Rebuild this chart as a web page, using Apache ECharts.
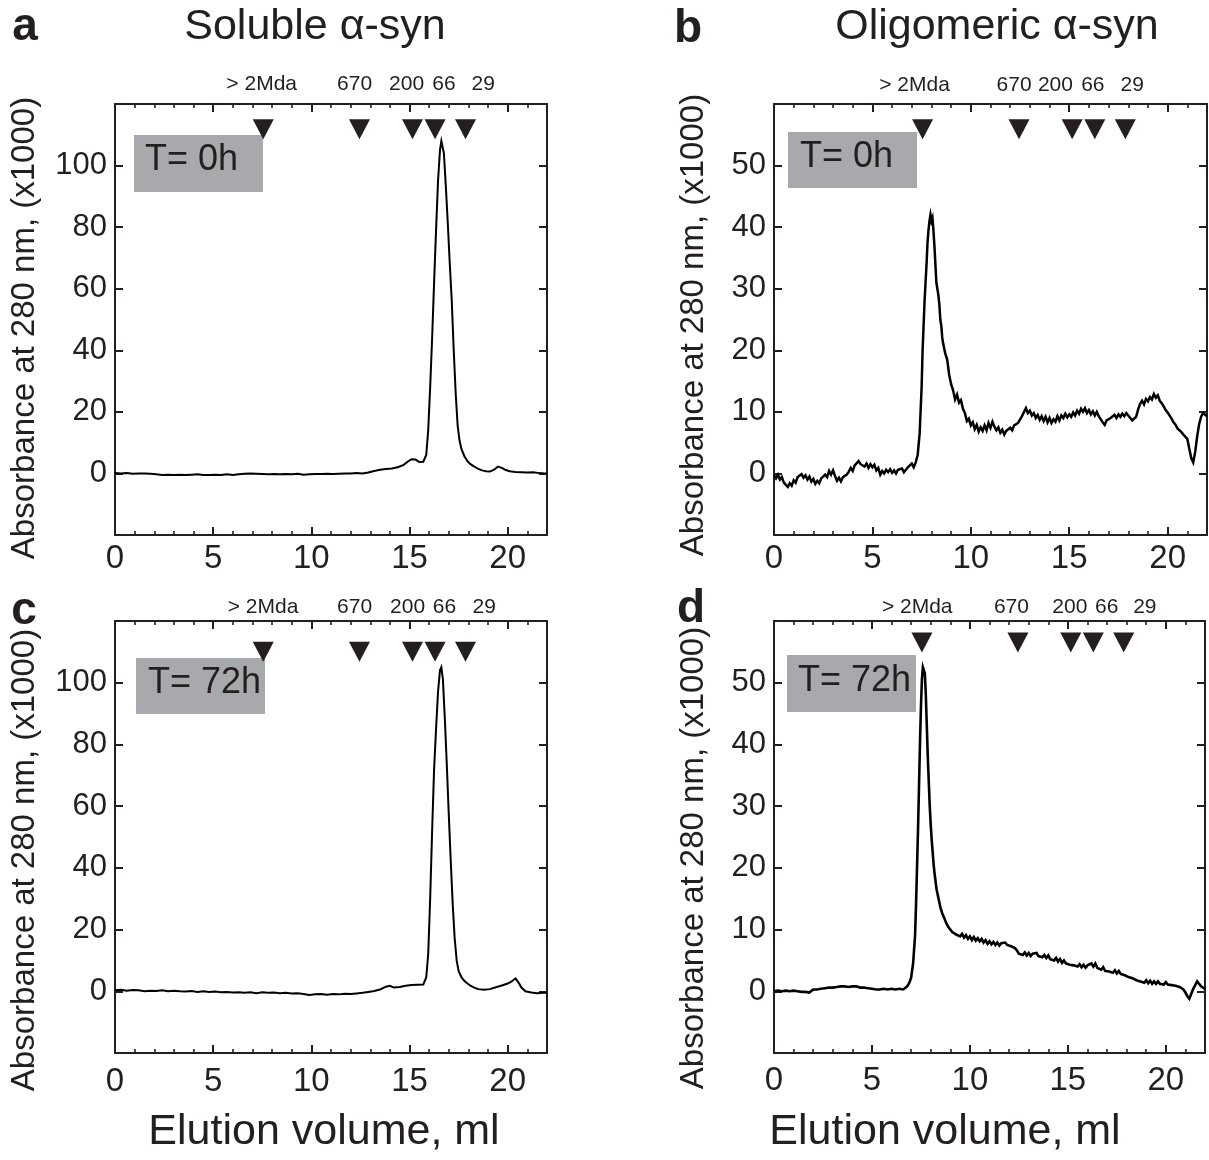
<!DOCTYPE html>
<html><head><meta charset="utf-8">
<script src="https://cdn.jsdelivr.net/npm/echarts@6/dist/echarts.min.js"></script>
<style>html,body{margin:0;padding:0;background:#fff}#c{width:1209px;height:1160px}</style>
</head><body><div id="c"></div>
<script>
// ---------- DATA ----------
// Panel a: soluble α-syn, T = 0h
const volA = [0.0,0.3,0.6,0.9,1.2,1.5,1.8,2.1,2.4,2.7,3.0,3.3,3.6,3.9,4.2,4.5,4.8,5.1,5.4,5.7,6.0,6.3,6.6,6.9,7.2,7.5,7.8,8.1,8.4,8.7,9.0,9.3,9.6,9.9,10.2,10.5,10.8,11.1,11.4,11.7,12.0,12.3,12.6,12.9,13.2,13.5,13.8,14.1,14.4,14.7,14.9,15.1,15.3,15.5,15.7,15.85,15.95,16.05,16.15,16.25,16.35,16.45,16.55,16.62,16.68,16.75,16.85,16.95,17.05,17.15,17.25,17.35,17.45,17.55,17.65,17.8,17.95,18.1,18.3,18.5,18.7,18.9,19.1,19.3,19.5,19.7,19.9,20.1,20.4,20.7,21.0,21.3,21.6,21.9,22.0];
const absA = [0.1,0.0,0.1,-0.1,0.0,0.0,-0.1,-0.3,-0.5,-0.4,-0.5,-0.4,-0.5,-0.4,-0.3,-0.5,-0.5,-0.4,-0.5,-0.3,-0.5,-0.3,-0.1,0.0,-0.1,-0.2,-0.3,-0.2,-0.3,-0.2,-0.3,-0.1,-0.4,-0.3,-0.2,-0.2,-0.1,-0.2,-0.1,0.0,0.0,0.1,0.0,0.3,0.8,1.2,1.4,1.6,2.0,2.8,3.8,4.6,4.5,3.7,3.8,6,14,28,44,62,79,95,105,108,108,104,93,81,68,56,40,26,15.5,10.5,7.8,5.5,4.0,3.0,2.2,1.5,1.0,0.7,0.6,1.2,2.2,1.8,1.1,0.7,0.5,0.4,0.3,0.4,0.1,0.0,0.0];

// Panel b: oligomeric α-syn, T = 0h
const volB = [0.0,0.1,0.2,0.3,0.4,0.5,0.6,0.7,0.8,0.9,1.0,1.1,1.2,1.3,1.4,1.5,1.6,1.7,1.8,1.9,2.0,2.1,2.2,2.3,2.4,2.5,2.6,2.7,2.8,2.9,3.0,3.1,3.2,3.3,3.4,3.5,3.6,3.7,3.8,3.9,4.0,4.1,4.2,4.3,4.4,4.5,4.6,4.7,4.8,4.9,5.0,5.1,5.2,5.3,5.4,5.5,5.6,5.7,5.8,5.9,6.0,6.1,6.2,6.3,6.4,6.5,6.6,6.7,6.8,6.9,7.0,7.1,7.2,7.3,7.4,7.5,7.55,7.6,7.65,7.7,7.75,7.8,7.85,7.9,7.95,8.0,8.05,8.1,8.15,8.2,8.25,8.3,8.35,8.4,8.45,8.5,8.55,8.6,8.7,8.8,8.9,9.0,9.1,9.2,9.3,9.4,9.5,9.6,9.7,9.8,9.9,10.0,10.1,10.2,10.3,10.4,10.5,10.6,10.7,10.8,10.9,11.0,11.1,11.2,11.3,11.4,11.5,11.6,11.7,11.8,11.9,12.0,12.1,12.2,12.3,12.4,12.5,12.6,12.7,12.8,12.9,13.0,13.1,13.2,13.3,13.4,13.5,13.6,13.7,13.8,13.9,14.0,14.1,14.2,14.3,14.4,14.5,14.6,14.7,14.8,14.9,15.0,15.1,15.2,15.3,15.4,15.5,15.6,15.7,15.8,15.9,16.0,16.1,16.2,16.3,16.4,16.5,16.6,16.7,16.8,16.9,17.0,17.1,17.2,17.3,17.4,17.5,17.6,17.7,17.8,17.9,18.0,18.1,18.2,18.3,18.4,18.5,18.6,18.7,18.8,18.9,19.0,19.1,19.2,19.3,19.4,19.5,19.6,19.7,19.8,19.9,20.0,20.1,20.2,20.3,20.4,20.5,20.6,20.7,20.8,20.9,21.0,21.1,21.2,21.3,21.4,21.5,21.6,21.7,21.8,21.9,22.0];
const absB = [-0.3,-0.8,-0.2,-1.0,-0.6,-1.5,-1.2,-2.2,-1.6,-2.0,-1.1,-1.5,-0.6,-0.9,-0.1,-0.7,-0.3,-1.0,-0.5,-1.3,-0.9,-1.7,-1.2,-1.6,-0.8,-1.0,-0.2,-0.6,0.4,-0.2,0.5,-0.4,-1.2,-0.7,-1.3,-0.6,-0.9,-0.2,0.3,0.9,0.4,1.3,1.0,2.0,1.5,1.8,1.1,1.6,0.9,1.5,1.0,1.4,0.5,0.9,-0.2,0.4,0.0,0.6,0.2,0.7,0.1,0.5,0.0,0.6,0.3,0.8,0.2,0.6,1.0,0.7,1.6,1.0,1.8,3.0,6.5,14,20,24,28,31,34,37.5,39.5,41,42,41,41.5,39.5,37,34,31,30,29,27.5,25,24,22,21,19.5,18.5,16,14.5,13.5,12.0,12.8,11.5,11.9,10.5,9.8,8.5,8.9,7.8,8.3,7.2,7.9,6.8,7.5,6.9,7.8,7.0,8.2,7.4,8.4,7.6,7.0,7.5,6.6,7.1,6.3,6.9,6.6,7.4,7.0,7.8,7.5,8.2,8.4,9.3,9.6,10.6,9.8,10.2,9.4,9.8,9.0,9.5,8.7,9.3,8.5,9.2,8.3,9.0,8.2,8.8,8.4,9.3,8.6,9.4,9.0,9.7,9.1,9.6,9.2,9.9,9.4,10.2,9.7,10.5,10.0,10.6,9.8,10.3,9.6,10.1,9.4,10.0,9.3,9.0,8.3,7.9,8.6,8.3,9.0,8.8,9.5,9.0,9.6,9.2,9.7,9.3,9.8,9.4,9.0,8.6,8.3,9.2,10.4,11.3,11.8,11.2,12.1,11.7,12.4,12.0,12.9,12.3,12.7,11.8,11.4,10.9,10.3,9.9,9.4,8.9,8.3,7.9,7.3,7.0,6.7,6.3,6.1,5.6,4.0,2.5,1.8,3.5,6.0,8.0,9.2,9.8,9.6,9.3];

// Panel c: soluble α-syn, T = 72h
const volC = [0.0,0.3,0.6,0.9,1.2,1.5,1.8,2.1,2.4,2.7,3.0,3.3,3.6,3.9,4.2,4.5,4.8,5.1,5.4,5.7,6.0,6.3,6.6,6.9,7.2,7.5,7.8,8.1,8.4,8.7,9.0,9.3,9.6,9.9,10.2,10.5,10.8,11.1,11.4,11.7,12.0,12.3,12.6,12.9,13.2,13.5,13.8,14.0,14.2,14.5,14.8,15.1,15.4,15.7,15.85,15.95,16.05,16.15,16.25,16.35,16.45,16.55,16.62,16.7,16.8,16.9,17.0,17.1,17.2,17.3,17.4,17.5,17.65,17.8,17.95,18.1,18.3,18.5,18.8,19.1,19.4,19.7,20.0,20.2,20.4,20.55,20.7,20.9,21.2,21.5,21.8,22.0];
const absC = [0.3,0.5,0.2,0.4,0.3,0.0,0.2,0.1,0.3,0.0,0.2,0.0,-0.1,0.1,-0.2,0.0,-0.2,-0.1,-0.3,-0.2,-0.4,-0.3,-0.5,-0.3,-0.6,-0.3,-0.5,-0.4,-0.6,-0.5,-0.7,-0.6,-0.9,-1.2,-1.0,-0.9,-1.1,-0.9,-1.0,-0.8,-0.9,-0.7,-0.5,-0.2,0.1,0.6,1.5,1.8,1.2,1.4,1.8,2.0,2.1,2.2,4.5,12,30,52,72,85,97,104,105,101,88,73,57,42,28,17,10,6.5,4.5,3.3,2.5,1.8,1.2,0.7,0.5,0.7,1.3,1.9,2.5,3.2,4.2,2.8,1.2,0.0,-0.4,-0.6,-0.5,-0.5];

// Panel d: oligomeric α-syn, T = 72h
const volD = [0.0,0.1,0.2,0.3,0.4,0.5,0.6,0.7,0.8,0.9,1.0,1.1,1.2,1.3,1.4,1.5,1.6,1.7,1.8,1.9,2.0,2.1,2.2,2.3,2.4,2.5,2.6,2.7,2.8,2.9,3.0,3.1,3.2,3.3,3.4,3.5,3.6,3.7,3.8,3.9,4.0,4.1,4.2,4.3,4.4,4.5,4.6,4.7,4.8,4.9,5.0,5.1,5.2,5.3,5.4,5.5,5.6,5.7,5.8,5.9,6.0,6.1,6.2,6.3,6.4,6.5,6.6,6.7,6.8,6.9,7.0,7.1,7.2,7.25,7.3,7.35,7.4,7.45,7.5,7.55,7.6,7.65,7.7,7.75,7.8,7.85,7.9,7.95,8.0,8.05,8.1,8.15,8.2,8.3,8.4,8.5,8.6,8.7,8.8,8.9,9.0,9.1,9.2,9.3,9.4,9.5,9.6,9.7,9.8,9.9,10.0,10.1,10.2,10.3,10.4,10.5,10.6,10.7,10.8,10.9,11.0,11.1,11.2,11.3,11.4,11.5,11.6,11.7,11.8,11.9,12.0,12.1,12.2,12.3,12.4,12.5,12.6,12.7,12.8,12.9,13.0,13.1,13.2,13.3,13.4,13.5,13.6,13.7,13.8,13.9,14.0,14.1,14.2,14.3,14.4,14.5,14.6,14.7,14.8,14.9,15.0,15.1,15.2,15.3,15.4,15.5,15.6,15.7,15.8,15.9,16.0,16.1,16.2,16.3,16.4,16.5,16.6,16.7,16.8,16.9,17.0,17.1,17.2,17.3,17.4,17.5,17.6,17.7,17.8,17.9,18.0,18.1,18.2,18.3,18.4,18.5,18.6,18.7,18.8,18.9,19.0,19.1,19.2,19.3,19.4,19.5,19.6,19.7,19.8,19.9,20.0,20.1,20.2,20.3,20.4,20.5,20.6,20.7,20.8,20.9,21.0,21.1,21.2,21.3,21.4,21.5,21.6,21.7,21.8,21.9,22.0];
const absD = [0.0,-0.3,0.1,-0.2,0.0,-0.3,0.1,-0.2,0.0,-0.3,0.1,-0.2,0.0,-0.3,-0.1,-0.4,-0.1,-0.4,-0.2,0.1,0.3,0.5,0.3,0.6,0.4,0.7,0.5,0.8,0.6,0.9,0.6,0.9,0.7,1.0,0.8,1.1,0.8,1.0,0.7,1.0,0.8,1.1,0.8,0.9,0.6,0.9,0.6,0.8,0.5,0.7,0.4,0.6,0.3,0.5,0.3,0.6,0.4,0.6,0.3,0.6,0.4,0.6,0.3,0.5,0.4,0.6,0.3,0.5,0.8,1.3,2.2,4.5,9,14,20,26,33,40,46,50.5,52.5,52.8,51.5,48,43,38,34,30,27,24.5,22.5,20.5,19,16.5,15,13.5,12.5,11.8,11.0,10.4,10.0,9.6,9.9,9.2,9.5,8.9,9.3,8.7,9.1,8.5,8.9,8.3,8.8,8.2,8.6,8.1,8.5,7.9,8.3,7.7,8.1,7.6,8.0,7.5,7.9,7.4,7.8,7.5,7.9,7.5,7.8,7.3,7.5,7.0,6.6,6.1,6.4,5.9,6.3,5.8,6.2,5.7,6.1,5.8,6.2,5.7,6.0,5.5,5.9,5.4,5.8,5.2,5.5,5.0,5.4,4.8,5.2,4.6,5.0,4.5,4.8,4.3,4.6,4.2,4.5,4.0,4.4,3.9,4.3,3.8,4.2,4.1,4.5,4.0,4.5,3.8,4.1,3.5,3.9,3.3,3.6,3.2,3.5,3.0,3.4,2.9,3.3,2.8,3.1,2.6,2.9,2.3,2.6,2.1,2.3,1.8,2.1,1.6,1.9,1.4,1.8,1.3,1.7,1.2,1.6,1.2,1.6,1.2,1.5,1.1,1.5,1.1,1.4,1.0,1.3,0.9,1.1,0.7,0.6,0.3,-0.2,-0.8,-1.2,-0.4,0.4,1.0,1.6,1.3,0.8,0.5,0.4];

// Molecular-weight standards (marker elution volumes, ml) and their labels
const mwLabels = ['> 2Mda', '670', '200', '66', '29'];
const mwVolumes = [7.55, 12.45, 15.15, 16.3, 17.85];

// Text
const titles = ['Soluble α-syn', 'Oligomeric α-syn'];
const panelLetters = ['a', 'b', 'c', 'd'];
const timeLabels = ['T= 0h', 'T= 0h', 'T= 72h', 'T= 72h'];
const yAxisTitle = 'Absorbance at 280 nm, (x1000)';
const xAxisTitle = 'Elution volume, ml';

// ---------- LAYOUT ----------
const INK = '#231f20';
const FONT = '"Liberation Sans", Arial, Helvetica, sans-serif';
const panels = [
  {vol: volA, abs: absA, grid: {left: 115, top: 104, width: 432, height: 431}, yMin: -20, yMax: 120, yInt: 20,
   markerLevel: 111.8, lw: 2, xMargin: 7, labelX: [7.47, 12.2, 14.85, 16.75, 18.75], labelY: 84,
   box: [134, 135, 129, 57], boxText: [145, 160], letter: [25, 27], yName: [25, 328]},
  {vol: volB, abs: absB, grid: {left: 774, top: 104, width: 433, height: 431}, yMin: -10, yMax: 60, yInt: 10,
   markerLevel: 55.9, lw: 2.5, xMargin: 7, labelX: [7.14, 12.2, 14.3, 16.2, 18.2], labelY: 85,
   box: [788, 132, 129, 56], boxText: [800, 157], letter: [688, 29], yName: [694, 325]},
  {vol: volC, abs: absC, grid: {left: 115, top: 621, width: 432, height: 432}, yMin: -20, yMax: 120, yInt: 20,
   markerLevel: 110, lw: 2, xMargin: 12, labelX: [7.54, 12.2, 14.9, 16.78, 18.8], labelY: 607,
   box: [136, 658, 129, 56], boxText: [148, 683], letter: [24, 611], yName: [25, 860]},
  {vol: volD, abs: absD, grid: {left: 774, top: 621, width: 431, height: 432}, yMin: -10, yMax: 60, yInt: 10,
   markerLevel: 56.5, lw: 2.6, xMargin: 11, labelX: [7.31, 12.12, 15.1, 16.98, 18.93], labelY: 607,
   box: [787, 655, 129, 57], boxText: [798, 681], letter: [691, 609], yName: [694, 858]}
];

const grids = [], xAxes = [], yAxes = [], series = [];
panels.forEach((p, i) => {
  grids.push(Object.assign({containLabel: false, outerBoundsMode: 'none'}, p.grid));
  const xBase = {gridIndex: i, type: 'value', min: 0, max: 22, splitLine: {show: false}};
  const line = {show: true, onZero: false, lineStyle: {color: INK, width: 2}};
  xAxes.push(Object.assign({}, xBase, {position: 'bottom', interval: 5, axisLine: line,
    axisTick: {inside: true, length: 8, lineStyle: {color: INK, width: 2}},
    axisLabel: {fontSize: 33, color: INK, fontFamily: FONT, margin: p.xMargin, showMaxLabel: false}}));
  xAxes.push(Object.assign({}, xBase, {position: 'bottom', interval: 1, axisLine: {show: false, onZero: false},
    axisTick: {inside: true, length: 4, lineStyle: {color: INK, width: 1.6}}, axisLabel: {show: false}}));
  xAxes.push(Object.assign({}, xBase, {position: 'top', interval: 5, axisLine: line,
    axisTick: {inside: true, length: 8, lineStyle: {color: INK, width: 2}}, axisLabel: {show: false}}));
  xAxes.push(Object.assign({}, xBase, {position: 'top', interval: 1, axisLine: {show: false, onZero: false},
    axisTick: {inside: true, length: 4, lineStyle: {color: INK, width: 1.6}}, axisLabel: {show: false}}));
  const yBase = {gridIndex: i, type: 'value', min: p.yMin, max: p.yMax, interval: p.yInt, splitLine: {show: false}};
  yAxes.push(Object.assign({}, yBase, {position: 'left', axisLine: line,
    axisTick: {inside: true, length: 8, lineStyle: {color: INK, width: 2}},
    axisLabel: {fontSize: 31, color: INK, fontFamily: FONT, margin: 8, showMinLabel: false, showMaxLabel: false}}));
  yAxes.push(Object.assign({}, yBase, {position: 'right', axisLine: line,
    axisTick: {inside: true, length: 8, lineStyle: {color: INK, width: 2}}, axisLabel: {show: false}}));
  series.push({type: 'line', xAxisIndex: 4 * i, yAxisIndex: 2 * i, data: p.vol.map((v, k) => [v, p.abs[k]]),
    showSymbol: false, symbol: 'none', smooth: false, lineStyle: {color: '#000', width: p.lw, join: 'miter'}, z: 3, animation: false});
  series.push({type: 'scatter', xAxisIndex: 4 * i, yAxisIndex: 2 * i, data: mwVolumes.map(v => [v, p.markerLevel]),
    symbol: 'triangle', symbolRotate: 180, symbolSize: [21, 20], itemStyle: {color: INK, opacity: 1}, z: 10, animation: false});
});

const chart = echarts.init(document.getElementById('c'), null, {renderer: 'canvas'});
chart.setOption({animation: false, backgroundColor: '#fff', grid: grids, xAxis: xAxes, yAxis: yAxes, series: series});

// ---------- ANNOTATIONS ----------
const g = [];
const txt = (x, y, text, size, opts) => g.push(Object.assign({type: 'text', x: x, y: y, z: 20,
  style: Object.assign({text: text, fill: INK, font: size + 'px ' + FONT, textAlign: 'center', textVerticalAlign: 'middle'}, opts && opts.style || {})},
  opts && opts.el || {}));
txt(315, 27, titles[0], 43);
txt(997, 27, titles[1], 43);
panels.forEach((p, i) => {
  txt(p.letter[0], p.letter[1], panelLetters[i], 46, {style: {font: 'bold 46px ' + FONT}});
  txt(p.yName[0], p.yName[1], yAxisTitle, 33, {el: {rotation: Math.PI / 2}});
  g.push({type: 'rect', z: 5, shape: {x: p.box[0], y: p.box[1], width: p.box[2], height: p.box[3]}, style: {fill: '#a7a9ac'}});
  g.push({type: 'text', z: 6, x: p.boxText[0], y: p.boxText[1],
    style: {text: timeLabels[i], fill: INK, font: '36px ' + FONT, textAlign: 'left', textVerticalAlign: 'middle'}});
  p.labelX.forEach((v, k) => {
    const px = chart.convertToPixel({xAxisIndex: 4 * i}, v);
    txt(px, p.labelY, mwLabels[k], 21);
  });
});
txt(324, 1132, xAxisTitle, 43);
txt(945, 1132, xAxisTitle, 43);
chart.setOption({graphic: g});
</script></body></html>
